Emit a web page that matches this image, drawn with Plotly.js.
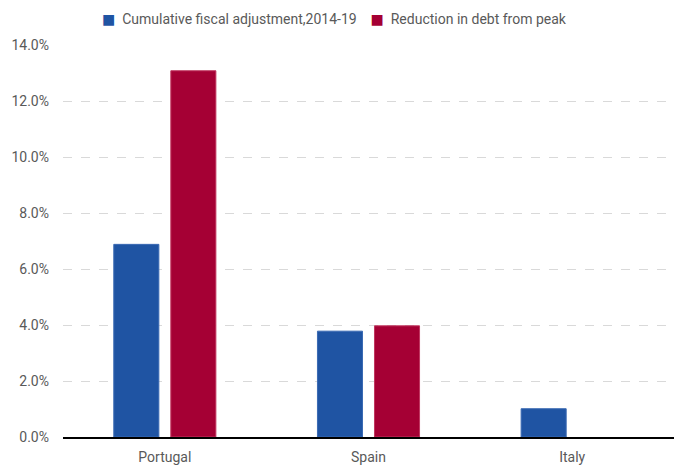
<!DOCTYPE html>
<html><head><meta charset="utf-8">
<script src="https://cdn.plot.ly/plotly-3.0.1.min.js"></script>
<style>html,body{margin:0;padding:0;background:#fff;}#chart{width:686px;height:467px;}</style>
</head><body><div id="chart"></div>
<script>
const categories = ["Portugal", "Spain", "Italy"];
const fiscalAdjustment = [6.88, 3.78, 1.01];
const debtReduction = [13.08, 3.97, null];
const seriesNames = ["Cumulative fiscal adjustment,2014-19", "Reduction in debt from peak"];
const seriesColors = ["#1F54A3", "#A50034"];
const yTicks = [0, 2, 4, 6, 8, 10, 12, 14];

const fontFam = 'Roboto, "DejaVu Sans", sans-serif';
const textColor = '#595959';
const traces = [
  {type: 'bar', name: seriesNames[0], x: categories, y: fiscalAdjustment,
   marker: {color: seriesColors[0], line: {color: '#3A6AB3', width: 1}}},
  {type: 'bar', name: seriesNames[1], x: categories, y: debtReduction,
   marker: {color: seriesColors[1], line: {color: '#C0365F', width: 1}}}
];
const legendText = seriesNames.map((n, i) =>
  '<span style="color:' + seriesColors[i] + '">■</span>  ' + n).join('    ');
const layout = {
  width: 686, height: 467,
  margin: {l: 63, r: 12, t: 45, b: 30, autoexpand: false},
  paper_bgcolor: '#fff', plot_bgcolor: '#fff',
  barmode: 'group', bargap: 0.44, bargroupgap: 0.21,
  font: {family: fontFam, size: 14, color: textColor},
  showlegend: false,
  annotations: [{xref: 'paper', yref: 'paper', x: 0.445, y: 1.067, xanchor: 'center', yanchor: 'middle',
                 text: legendText, showarrow: false, font: {family: fontFam, size: 14, color: textColor}}],
  xaxis: {showgrid: false, showline: true, linecolor: '#000', linewidth: 1.5, ticks: '',
          ticklabelstandoff: 7,
          tickfont: {family: fontFam, size: 14, color: textColor}, fixedrange: true},
  yaxis: {range: [0, 14], tickvals: yTicks, ticktext: yTicks.map(v => v.toFixed(1) + '%'),
          showgrid: true, gridcolor: '#D9D9D9', griddash: 'dash', gridwidth: 1,
          zeroline: false, showline: false, ticks: '', ticklabelstandoff: 13,
          tickfont: {family: fontFam, size: 14, color: textColor}, fixedrange: true}
};
Plotly.newPlot('chart', traces, layout, {displayModeBar: false, staticPlot: true});
</script></body></html>
